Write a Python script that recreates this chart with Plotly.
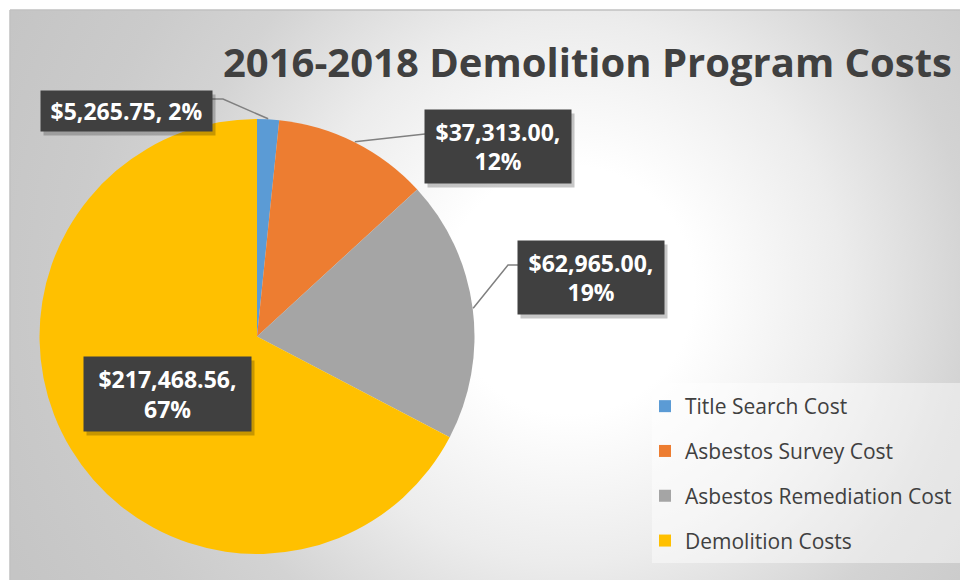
import base64
import math
import plotly.graph_objects as go

# ---------------- data ----------------
labels = ["Title Search Cost", "Asbestos Survey Cost", "Asbestos Remediation Cost", "Demolition Costs"]
values = [5265.75, 37313.00, 62965.00, 217468.56]
colors = ["#5B9BD5", "#ED7D31", "#A5A5A5", "#FFC000"]
title_text = "2016-2018 Demolition Program Costs"

# ---------------- layout helpers ----------------
W, H = 960, 580
FONT = "Open Sans, Calibri, sans-serif"


def px(x):
    return x / W


def py(y):
    return 1 - y / H


PIE_L, PIE_R, PIE_T, PIE_B = 39, 475, 119, 554
cx, cy = (PIE_L + PIE_R) / 2, (PIE_T + PIE_B) / 2
R = (PIE_R - PIE_L) / 2

fig = go.Figure()
fig.add_trace(go.Pie(
    labels=labels, values=values, sort=False, direction="clockwise", rotation=0,
    marker=dict(colors=colors, line=dict(width=0)),
    textinfo="none", hoverinfo="label+value+percent", showlegend=False,
    domain=dict(x=[px(PIE_L), px(PIE_R)], y=[py(PIE_B), py(PIE_T)]),
))

# legend entries (one per slice)
for lab, col in zip(labels, colors):
    fig.add_trace(go.Scatter(
        x=[None], y=[None], mode="markers", name=lab, legendgroup=lab,
        marker=dict(symbol="square", size=13, color=col, line=dict(width=0)),
        hoverinfo="skip", showlegend=True,
    ))

# background gradient (chart area)
svg = (
    '<svg xmlns="http://www.w3.org/2000/svg" width="950" height="570" viewBox="0 0 950 570" '
    'preserveAspectRatio="none"><defs><radialGradient id="g" gradientUnits="userSpaceOnUse" '
    'cx="560" cy="280" r="620">'
    '<stop offset="0" stop-color="#ffffff"/><stop offset="0.2" stop-color="#ffffff"/>'
    '<stop offset="0.44" stop-color="#ececec"/><stop offset="0.65" stop-color="#d3d3d3"/>'
    '<stop offset="0.8" stop-color="#cbcbcb"/><stop offset="1" stop-color="#c5c5c5"/>'
    '</radialGradient></defs><rect width="950" height="570" fill="url(#g)"/></svg>'
)
src = "data:image/svg+xml;base64," + base64.b64encode(svg.encode()).decode()

shapes = [
    dict(type="line", xref="paper", yref="paper", x0=px(10), x1=px(960), y0=py(10), y1=py(10),
         line=dict(color="#c0c0c0", width=1.5), layer="below"),
    dict(type="line", xref="paper", yref="paper", x0=px(10), x1=px(10), y0=py(10), y1=py(580),
         line=dict(color="#c0c0c0", width=1.5), layer="below"),
    dict(type="rect", xref="paper", yref="paper", x0=px(652), x1=px(962), y0=py(563), y1=py(383),
         line=dict(width=0), fillcolor="rgba(255,255,255,0.45)", layer="below"),
]

# data labels
total = sum(values)
wrap = [False, True, True, True]
boxes = [(126.5, 111, 171, 40), (498, 146.5, 146, 73), (591, 277.5, 146, 73), (167.5, 394, 167, 74)]
# leader line: (elbow, box attach point) or None
leaders = [((223, 99), (212, 99)), ((425, 134), (425, 134)), ((508, 265), (518, 265)), None]

annotations = []
cum = 0.0
for i, v in enumerate(values):
    frac = v / total
    mid = (cum + frac / 2) * 2 * math.pi
    cum += frac
    ax_ = cx + R * math.sin(mid)
    ay_ = cy - R * math.cos(mid)
    pct = round(frac * 100)
    sep = "<br>" if wrap[i] else " "
    txt = f"${v:,.2f},{sep}{pct}%"
    bx, by, bw, bh = boxes[i]
    if leaders[i] is not None:
        (ex, ey), (tx, ty) = leaders[i]
        shapes.append(dict(type="path", xref="paper", yref="paper",
                           path=f"M {px(ax_)},{py(ay_)} L {px(ex)},{py(ey)} L {px(tx)},{py(ty)}",
                           line=dict(color="#808080", width=1.5)))
    # shadow
    annotations.append(dict(x=px(bx), y=py(by), xref="paper", yref="paper", text=" ",
                            showarrow=False, xanchor="center", yanchor="middle",
                            width=bw - 8, height=bh - 8, borderpad=4, xshift=3, yshift=-4,
                            bgcolor="rgba(0,0,0,0.22)",
                            font=dict(family=FONT, size=23, color="rgba(0,0,0,0)")))
    annotations.append(dict(x=px(bx), y=py(by), xref="paper", yref="paper", text=f"<b>{txt}</b>",
                            showarrow=False, xanchor="center", yanchor="middle",
                            width=bw - 8, height=bh - 8, borderpad=4,
                            bgcolor="#404040",
                            font=dict(family=FONT, size=23, color="#ffffff")))

annotations.append(dict(x=px(221), y=py(61), xref="paper", yref="paper", text=f"<b>{title_text}</b>",
                        showarrow=False, xanchor="left", yanchor="middle",
                        font=dict(family=FONT, size=40, color="#404040")))

fig.update_layout(
    width=W, height=H, margin=dict(l=0, r=0, t=0, b=0),
    paper_bgcolor="#ffffff", plot_bgcolor="rgba(0,0,0,0)",
    xaxis=dict(visible=False), yaxis=dict(visible=False),
    images=[dict(source=src, xref="paper", yref="paper", x=px(10), y=py(10),
                 sizex=px(960) - px(10), sizey=py(10) - py(580), sizing="stretch", layer="below",
                 xanchor="left", yanchor="top")],
    shapes=shapes, annotations=annotations,
    legend=dict(x=px(645), y=py(386), xanchor="left", yanchor="top",
                bgcolor="rgba(0,0,0,0)", borderwidth=0, tracegroupgap=14.5,
                itemsizing="constant", traceorder="grouped",
                font=dict(family=FONT, size=21, color="#404040")),
    hovermode="closest",
)

fig.write_html("out.html", config={"displayModeBar": False},
               post_script="document.body.style.margin='0';document.body.style.overflow='hidden';")
